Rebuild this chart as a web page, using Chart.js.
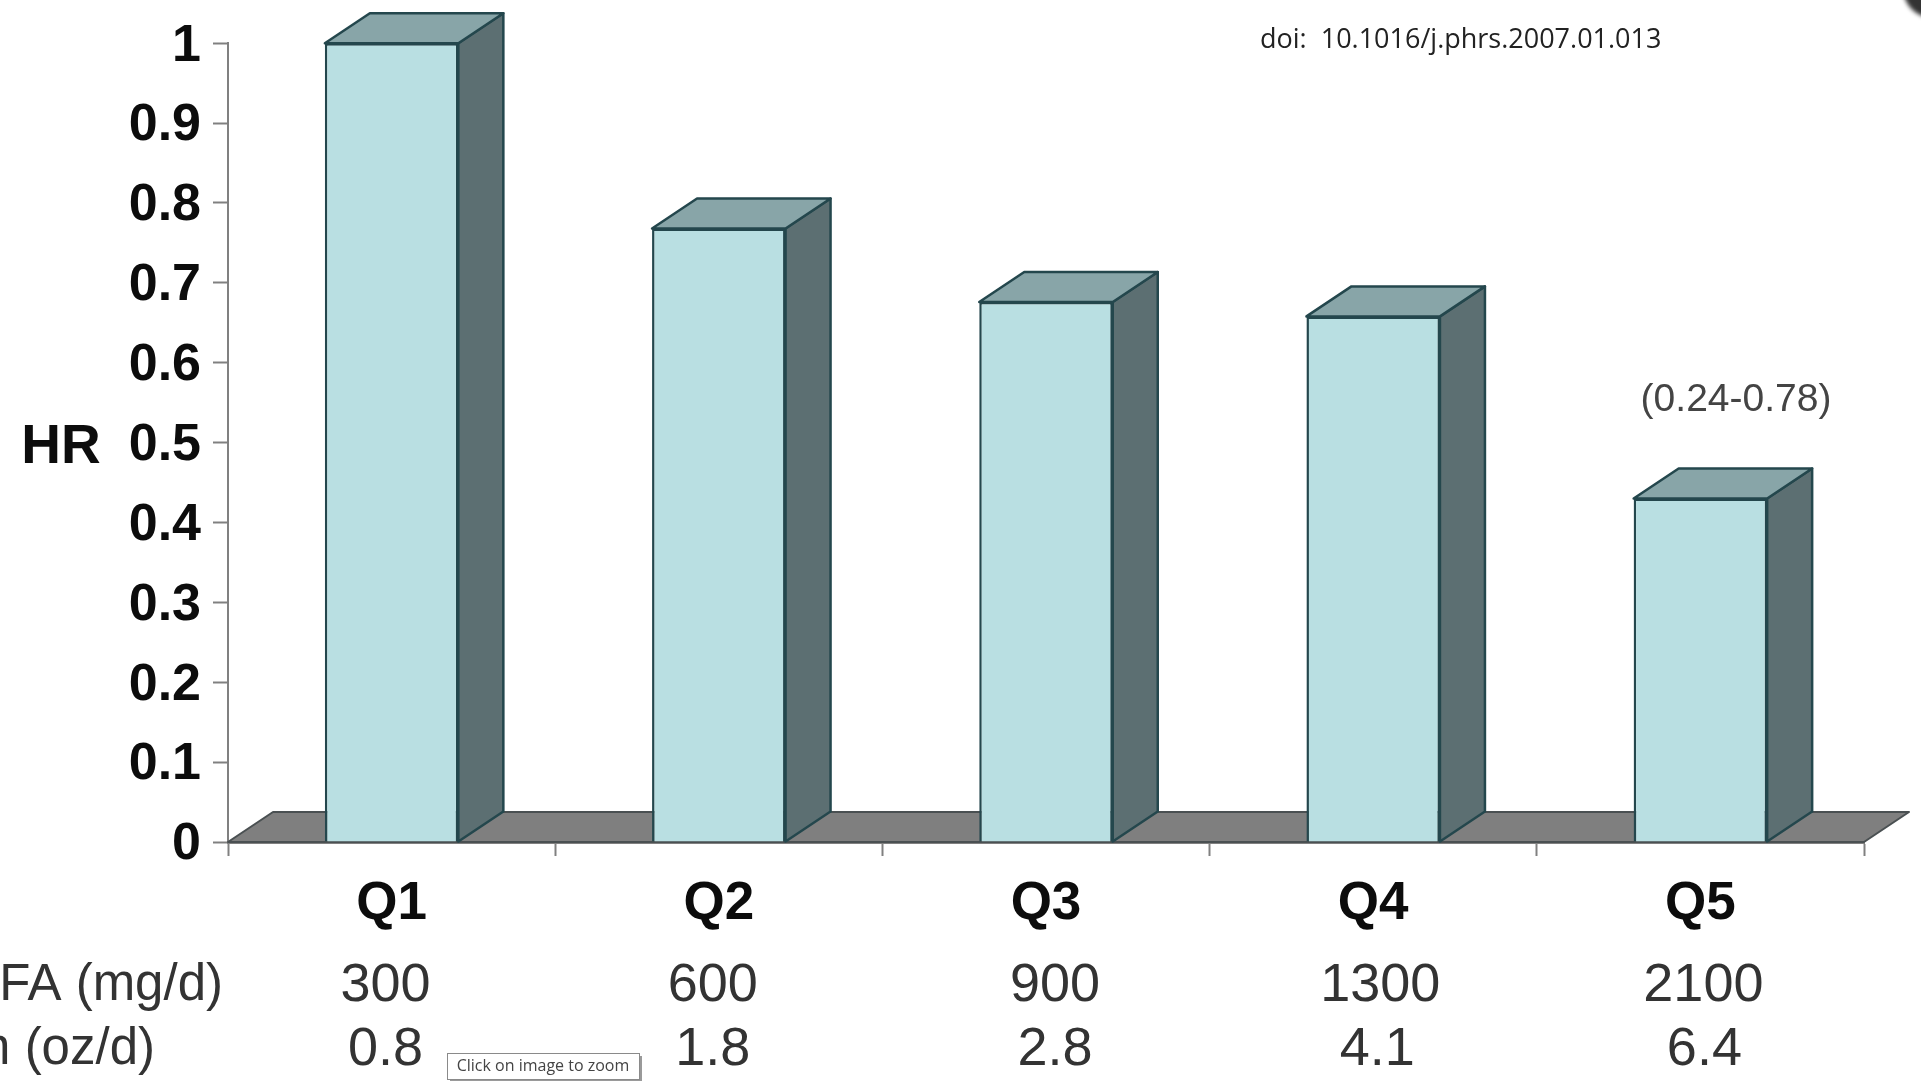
<!DOCTYPE html>
<html>
<head>
<meta charset="utf-8">
<title>Hazard ratio by intake quintile</title>
<style>
  html, body { margin: 0; padding: 0; background: #fff; overflow: hidden; }
  canvas { display: block; }
</style>
<script src="https://cdn.jsdelivr.net/npm/chart.js@4"></script>
</head>
<body>
<canvas id="chart" width="1921" height="1081"></canvas>
<script>
const quintiles = ['Q1', 'Q2', 'Q3', 'Q4', 'Q5'];
const hazardRatios = [1.0, 0.768, 0.676, 0.658, 0.43];
const hrTickLabels = ['0', '0.1', '0.2', '0.3', '0.4', '0.5', '0.6', '0.7', '0.8', '0.9', '1'];
const faIntake = ['300', '600', '900', '1300', '2100'];
const fishIntake = ['0.8', '1.8', '2.8', '4.1', '6.4'];
const faRowLabel = 'FA (mg/d)';
const fishRowLabel = 'n (oz/d)';
const yAxisLabel = 'HR';
const intervalLabel = '(0.24-0.78)';
const doiLabel = 'doi:  10.1016/j.phrs.2007.01.013';
const zoomHint = 'Click on image to zoom';

// Horizontal nudges of the intake rows relative to each category centre
const faRowNudge = [-6, -6, 9, 7, 3];
const fishRowNudge = [-6, -6, 9, 4, 4];

// Oblique projection used for the box sides and the floor
const DEPTH_X = 45;
const DEPTH_Y = 30;
const ARIAL = '"Liberation Sans", Arial, sans-serif';
const EDGE = '#24474d';

function poly(ctx, pts, fill, stroke, width) {
  ctx.beginPath();
  pts.forEach((p, i) => (i ? ctx.lineTo(p[0], p[1]) : ctx.moveTo(p[0], p[1])));
  ctx.closePath();
  ctx.fillStyle = fill;
  ctx.fill();
  if (stroke) {
    ctx.strokeStyle = stroke;
    ctx.lineWidth = width;
    ctx.lineJoin = 'round';
    ctx.stroke();
  }
}

function label(ctx, text, x, y, font, color, align) {
  ctx.font = font;
  ctx.fillStyle = color;
  ctx.textAlign = align || 'center';
  ctx.textBaseline = 'middle';
  ctx.fillText(text, x, y);
}

const floorPlugin = {
  id: 'floor',
  beforeDatasetsDraw(chart) {
    const { ctx, chartArea: a } = chart;
    ctx.save();
    poly(ctx, [
      [a.left, a.bottom],
      [a.left + DEPTH_X, a.bottom - DEPTH_Y],
      [a.right + DEPTH_X, a.bottom - DEPTH_Y],
      [a.right, a.bottom]
    ], '#7f7f7f', '#4a5052', 2);
    ctx.restore();
  }
};

const boxFacesPlugin = {
  id: 'boxFaces',
  afterDatasetsDraw(chart) {
    const { ctx } = chart;
    ctx.save();
    chart.getDatasetMeta(0).data.forEach(bar => {
      const { x, y, base, width } = bar.getProps(['x', 'y', 'base', 'width'], true);
      const l = x - width / 2;
      const r = x + width / 2;
      poly(ctx, [
        [r, y], [r + DEPTH_X, y - DEPTH_Y],
        [r + DEPTH_X, base - DEPTH_Y], [r, base]
      ], '#5c6f72', EDGE, 2.5);
      poly(ctx, [
        [l, y], [l + DEPTH_X, y - DEPTH_Y],
        [r + DEPTH_X, y - DEPTH_Y], [r, y]
      ], '#88a5a8', EDGE, 2.5);
    });
    ctx.restore();
  }
};

const annotationsPlugin = {
  id: 'annotations',
  afterDraw(chart) {
    const { ctx, scales } = chart;
    const regular = '54px ' + ARIAL;
    ctx.save();

    label(ctx, yAxisLabel, 61, 448, 'bold 55px ' + ARIAL, '#0c0c0c');

    // Intake rows under the category labels
    quintiles.forEach((q, i) => {
      const cx = scales.x.getPixelForValue(i);
      label(ctx, faIntake[i], cx + faRowNudge[i], 986, regular, '#333');
      label(ctx, fishIntake[i], cx + fishRowNudge[i], 1050, regular, '#333');
    });
    label(ctx, faRowLabel, 223, 986, '51px ' + ARIAL, '#333', 'right');
    label(ctx, fishRowLabel, 155, 1050, '51px ' + ARIAL, '#333', 'right');

    label(ctx, intervalLabel, 1736, 400, '39px ' + ARIAL, '#444');
    label(ctx, doiLabel, 1260, 40, '27px "Open Sans", "Noto Sans", sans-serif', '#222', 'left');

    // Hint box at the bottom edge
    ctx.fillStyle = '#9a9a9a';
    ctx.fillRect(450, 1056, 192, 25);
    ctx.fillStyle = '#fff';
    ctx.fillRect(447.5, 1053.5, 192, 26);
    ctx.strokeStyle = '#8a8a8a';
    ctx.lineWidth = 1;
    ctx.strokeRect(447.5, 1053.5, 192, 26);
    label(ctx, zoomHint, 543, 1066, '16px "Open Sans", "Noto Sans", sans-serif', '#444');

    // Dark rounded corner in the top right
    ctx.filter = 'blur(2px)';
    ctx.fillStyle = '#333';
    ctx.beginPath();
    ctx.arc(1933, -12, 30, 0, Math.PI * 2);
    ctx.fill();
    ctx.restore();
  }
};

new Chart(document.getElementById('chart'), {
  type: 'bar',
  data: {
    labels: quintiles,
    datasets: [{
      label: yAxisLabel,
      data: hazardRatios,
      backgroundColor: '#b9dfe2',
      borderColor: EDGE,
      borderWidth: 2.5,
      barPercentage: 0.408,
      categoryPercentage: 1
    }]
  },
  plugins: [floorPlugin, boxFacesPlugin, annotationsPlugin],
  options: {
    responsive: false,
    animation: false,
    layout: { padding: { left: 0, top: 43, right: 57, bottom: 0 } },
    plugins: { legend: { display: false }, tooltip: { enabled: false } },
    scales: {
      x: {
        z: 1,
        afterFit(scale) { scale.height = 239; },
        border: { color: '#808080', width: 3 },
        grid: { drawOnChartArea: false, drawTicks: true, tickLength: 14, tickColor: '#808080', tickWidth: 2 },
        ticks: {
          autoSkip: false,
          maxRotation: 0,
          padding: 17,
          color: '#0c0c0c',
          font: { family: ARIAL, size: 53, weight: 'bold' }
        }
      },
      y: {
        min: 0,
        max: 1,
        afterFit(scale) { scale.width = 228; },
        border: { color: '#808080', width: 2 },
        grid: { drawOnChartArea: false, drawTicks: true, tickLength: 15, tickColor: '#808080', tickWidth: 2 },
        ticks: {
          stepSize: 0.1,
          padding: 12,
          labelOffset: 3,
          color: '#0c0c0c',
          font: { family: ARIAL, size: 52, weight: 'bold' },
          callback: (value, index) => hrTickLabels[index]
        }
      }
    }
  }
});
</script>
</body>
</html>
